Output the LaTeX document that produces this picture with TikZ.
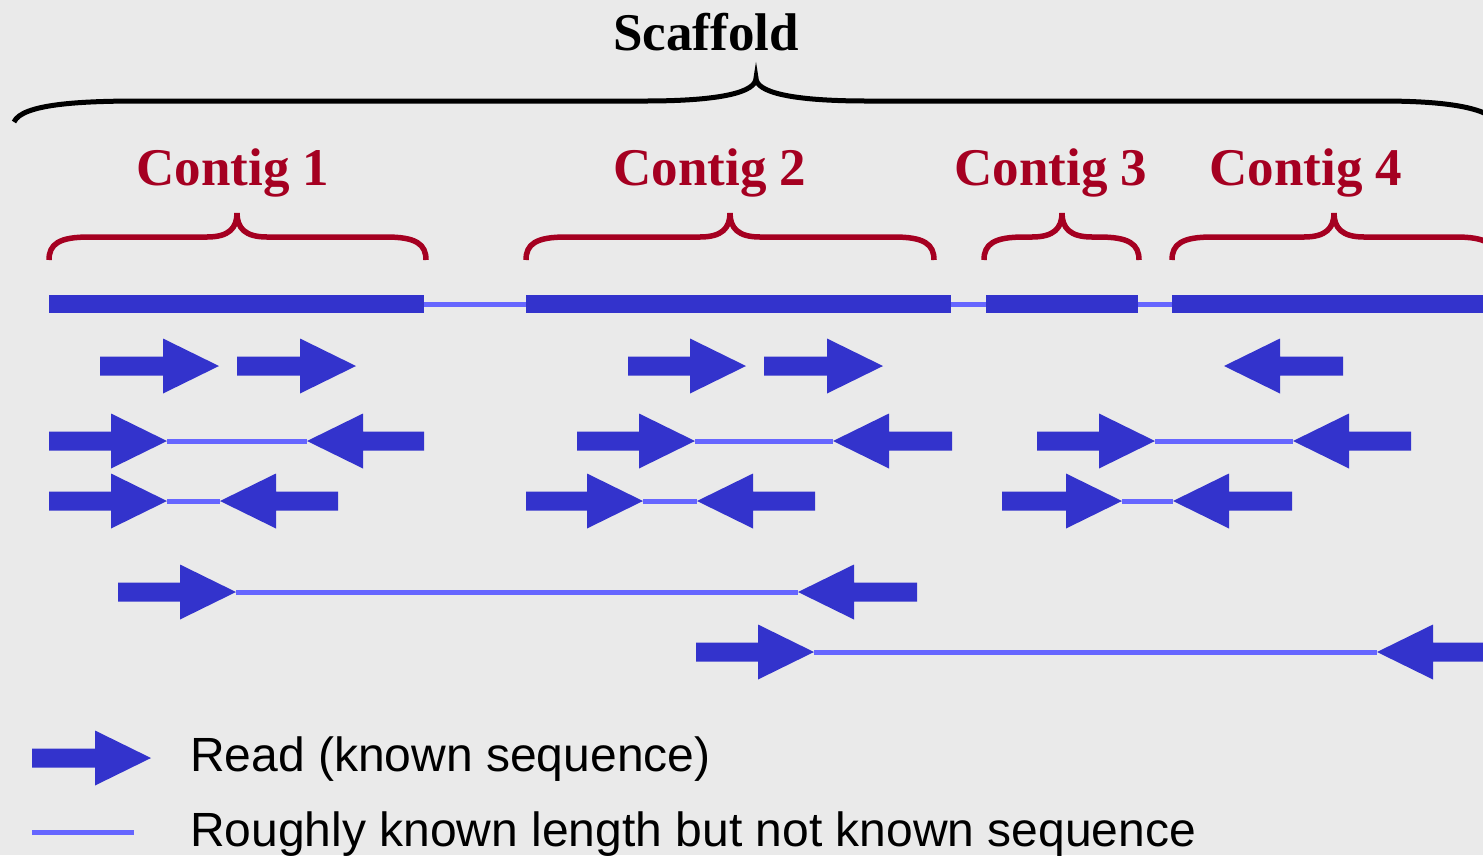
\documentclass[tikz,border=0pt]{standalone}
\usepackage{fontspec}
\setmainfont{Liberation Serif}
\newfontfamily\legendfont{Liberation Sans}
\definecolor{bgc}{HTML}{EAEAEA}
\definecolor{readc}{HTML}{3333CC}
\definecolor{gapc}{HTML}{6666FF}
\definecolor{contigc}{HTML}{A50021}
% right-pointing read: name, start x, tip x, y
\newcommand{\readright}[4]{%
  \fill[readc] (#2,#4-9.5) -- (#3-56,#4-9.5) -- (#3-56,#4-27.5) -- (#3,#4)
    -- (#3-56,#4+27.5) -- (#3-56,#4+9.5) -- (#2,#4+9.5) -- cycle;
  \coordinate (#1) at (#3,#4);}
% left-pointing read: name, tip x, end x, y
\newcommand{\readleft}[4]{%
  \fill[readc] (#3,#4-9.5) -- (#2+56,#4-9.5) -- (#2+56,#4-27.5) -- (#2,#4)
    -- (#2+56,#4+27.5) -- (#2+56,#4+9.5) -- (#3,#4+9.5) -- cycle;
  \coordinate (#1) at (#2,#4);}
% contig brace: left x, tip x, right x
\newcommand{\contigbrace}[3]{%
  \draw[cbrace] (#1,260) .. controls (#1,244) and (#1+10,237) .. (#1+40,237)
    -- (#2-30,237) .. controls (#2-8,237) and (#2,228) .. (#2,213)
    .. controls (#2,228) and (#2+8,237) .. (#2+30,237)
    -- (#3-40,237) .. controls (#3-10,237) and (#3,244) .. (#3,260);}
\begin{document}
\begin{tikzpicture}[x=1pt,y=-1pt,
  gapline/.style={draw=gapc,line width=5pt},
  cbrace/.style={draw=contigc,line width=5.5pt},
  sbrace/.style={draw=black,line width=5pt},
  contiglabel/.style={text=contigc,font=\fontsize{53}{60}\selectfont\bfseries,anchor=base,inner sep=0pt},
  legendlabel/.style={font=\legendfont\fontsize{48}{56}\selectfont,anchor=base west,inner sep=0pt},
  bar/.style={fill=readc}]
\useasboundingbox (0,0) rectangle (1483,855);
\fill[bgc] (0,0) rectangle (1483,855);
\clip (0,0) rectangle (1483,855);

% Scaffold label and brace
\node[font=\fontsize{53}{60}\selectfont\bfseries,anchor=base,inner sep=0pt] (scaffold) at (706,50) {Scaffold};
\draw[sbrace] (14,122) .. controls (22,104) and (80,101) .. (140,101)
  -- (645,101) .. controls (722,101) and (756,92) .. (756,78)
  .. controls (756,92) and (790,101) .. (867,101)
  -- (1380,101) .. controls (1440,101) and (1483,106) .. (1498,122);

% Contig labels
\node[contiglabel] (c1) at (233,185) {Contig 1};
\node[contiglabel] (c2) at (710,185) {Contig 2};
\node[contiglabel] (c3) at (1051,185) {Contig 3};
\node[contiglabel] (c4) at (1306,185) {Contig 4};

% Contig braces
\contigbrace{49}{237}{426}
\contigbrace{526}{730}{934}
\contigbrace{984}{1062}{1139}
\contigbrace{1172}{1334}{1496}

% Scaffold bar
\coordinate (b1e) at (424,304);
\coordinate (b2s) at (526,304);
\coordinate (b2e) at (951,304);
\coordinate (b3s) at (986,304);
\coordinate (b3e) at (1138,304);
\coordinate (b4s) at (1172,304);
\draw[gapline] (b1e) -- (b2s);
\draw[gapline] (b2e) -- (b3s);
\draw[gapline] (b3e) -- (b4s);
\fill[bar] (49,295) rectangle (424,313);
\fill[bar] (526,295) rectangle (951,313);
\fill[bar] (986,295) rectangle (1138,313);
\fill[bar] (1172,295) rectangle (1490,313);

% Row 1: single reads
\readright{r1a}{100}{219}{366}
\readright{r1b}{237}{356}{366}
\readright{r1c}{628}{746}{366}
\readright{r1d}{764}{883}{366}
\readleft{r1e}{1224}{1343}{366}

% Row 2: mate pairs
\draw[gapline] (167,441) -- (307,441);
\draw[gapline] (695,441) -- (833,441);
\draw[gapline] (1155,441) -- (1293,441);
\readright{r2a}{49}{167}{441}
\readleft{l2a}{307}{424}{441}
\readright{r2b}{577}{695}{441}
\readleft{l2b}{833}{952}{441}
\readright{r2c}{1037}{1155}{441}
\readleft{l2c}{1293}{1411}{441}

% Row 3: short mate pairs
\draw[gapline] (167,501) -- (220,501);
\draw[gapline] (643,501) -- (697,501);
\draw[gapline] (1122,501) -- (1173,501);
\readright{r3a}{49}{167}{501}
\readleft{l3a}{220}{338}{501}
\readright{r3b}{526}{643}{501}
\readleft{l3b}{697}{815}{501}
\readright{r3c}{1002}{1122}{501}
\readleft{l3c}{1173}{1292}{501}

% Row 4 and 5: long-range mate pairs
\draw[gapline] (236,592) -- (798,592);
\readright{r4}{118}{236}{592}
\readleft{l4}{798}{917}{592}
\draw[gapline] (814,652) -- (1377,652);
\readright{r5}{696}{814}{652}
\readleft{l5}{1377}{1500}{652}

% Legend
\readright{lg}{32}{151}{758}
\coordinate (lgs) at (32,832);
\coordinate (lge) at (134,832);
\draw[gapline] (lgs) -- (lge);
\node[legendlabel] (t1) at (190,771) {Read (known sequence)};
\node[legendlabel] (t2) at (190,846) {Roughly known length but not known sequence};
\end{tikzpicture}
\end{document}
